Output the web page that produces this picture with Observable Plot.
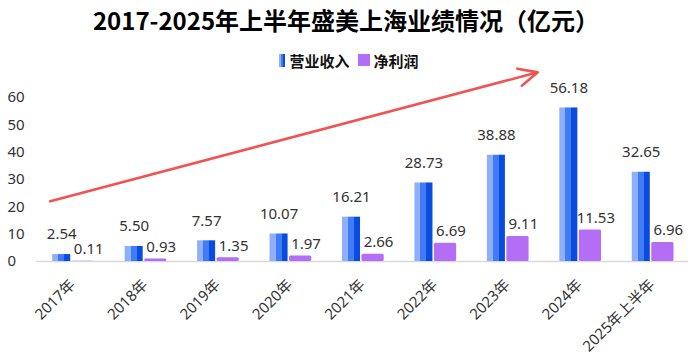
<!DOCTYPE html>
<html>
<head>
<meta charset="utf-8">
<script src="https://cdn.jsdelivr.net/npm/d3@7"></script>
<script src="https://cdn.jsdelivr.net/npm/@observablehq/plot@0.6"></script>
<style>
  html, body { margin: 0; padding: 0; background: #fff; }
  body { width: 692px; height: 355px; overflow: hidden; font-family: "Noto Sans CJK SC", "Noto Sans", sans-serif; }
  #title { height: 40px; line-height: 40px; text-align: center; font-size: 24px; font-weight: 700; color: #000; }
  #legend { height: 40px; display: flex; align-items: center; justify-content: center; padding-left: 6px; box-sizing: border-box; font-size: 15px; font-weight: 700; color: #111; }
  #legend .sw { display: inline-block; margin-right: 4px; }
  #legend .blue { width: 6px; height: 13px; background: linear-gradient(to right, #8fb0f8 0 33%, #3f7cf5 33% 66%, #0a4be0 66%); }
  #legend .purple { width: 12px; height: 12px; background: #b36ef5; margin-left: 8px; }
  #chart svg { display: block; }
</style>
</head>
<body>
<div id="title">2017-2025年上半年盛美上海业绩情况（亿元）</div>
<div id="legend"><span class="sw blue"></span><span>营业收入</span><span class="sw purple"></span><span>净利润</span></div>
<div id="chart"></div>
<script>
const categories = ["2017年", "2018年", "2019年", "2020年", "2021年", "2022年", "2023年", "2024年", "2025年上半年"];
const revenue = [2.54, 5.50, 7.57, 10.07, 16.21, 28.73, 38.88, 56.18, 32.65];
const netProfit = [0.11, 0.93, 1.35, 1.97, 2.66, 6.69, 9.11, 11.53, 6.96];
const yTicks = [0, 10, 20, 30, 40, 50, 60];
// trend arrow endpoints, in (category index, value) units
const trendArrow = [{x1: -0.31, y1: 22, x2: 6.42, y2: 69.2}];

const rows = categories.map((c, i) => ({i, cat: c, revenue: revenue[i], profit: netProfit[i]}));

const defs = () => {
  const d = d3.create("svg:defs");
  const g = d.append("linearGradient").attr("id", "blueGrad")
    .attr("x1", 0).attr("x2", 1).attr("y1", 0).attr("y2", 0);
  [[0, "#8fb0f8"], [0.333, "#8fb0f8"], [0.333, "#3f7cf5"], [0.667, "#3f7cf5"], [0.667, "#0a4be0"], [1, "#0a4be0"]]
    .forEach(([o, c]) => g.append("stop").attr("offset", o).attr("stop-color", c));
  return d.node();
};

const labelFont = '"Noto Sans", "Noto Sans CJK SC", sans-serif';

const chart = Plot.plot({
  width: 692,
  height: 275,
  marginLeft: 36,
  marginRight: 4,
  marginTop: 17,
  marginBottom: 94,
  x: {domain: [-0.5, categories.length - 0.5]},
  y: {domain: [0, 60]},
  style: {overflow: "visible", fontFamily: labelFont, background: "transparent"},
  marks: [
    defs,
    Plot.ruleY([0], {stroke: "#d9d9d9", strokeWidth: 1.5}),
    Plot.rectY(rows, {x1: d => d.i - 0.5, x2: d => d.i + 0.5, y: "revenue", fill: "url(#blueGrad)", insetLeft: 16.2, insetRight: 38.2}),
    Plot.rectY(rows, {x1: d => d.i - 0.5, x2: d => d.i + 0.5, y: "profit", fill: "#b36ef5", insetLeft: 35.7, insetRight: 14.5, rx: 1.5}),
    Plot.text(rows, {x: "i", y: "revenue", text: d => d.revenue.toFixed(2), dx: -11, dy: -20, fontSize: 15, fill: "#333"}),
    Plot.text(rows, {x: "i", y: "profit", text: d => d.profit.toFixed(2), dx: 16, dy: -12, fontSize: 15, fill: "#333"}),
    Plot.arrow(trendArrow, {x1: "x1", y1: "y1", x2: "x2", y2: "y2", stroke: "#f25252", strokeWidth: 2.6, headLength: 12, headAngle: 50}),
    Plot.axisY({ticks: yTicks, tickSize: 0, tickPadding: 0, textAnchor: "start", dx: -29, fontSize: 15, fill: "#333"}),
    Plot.axisX({ticks: d3.range(categories.length), tickFormat: i => categories[i], tickRotate: -45, tickSize: 0, dy: 9, fontSize: 15, fill: "#333"})
  ]
});
document.getElementById("chart").appendChild(chart);
</script>
</body>
</html>
